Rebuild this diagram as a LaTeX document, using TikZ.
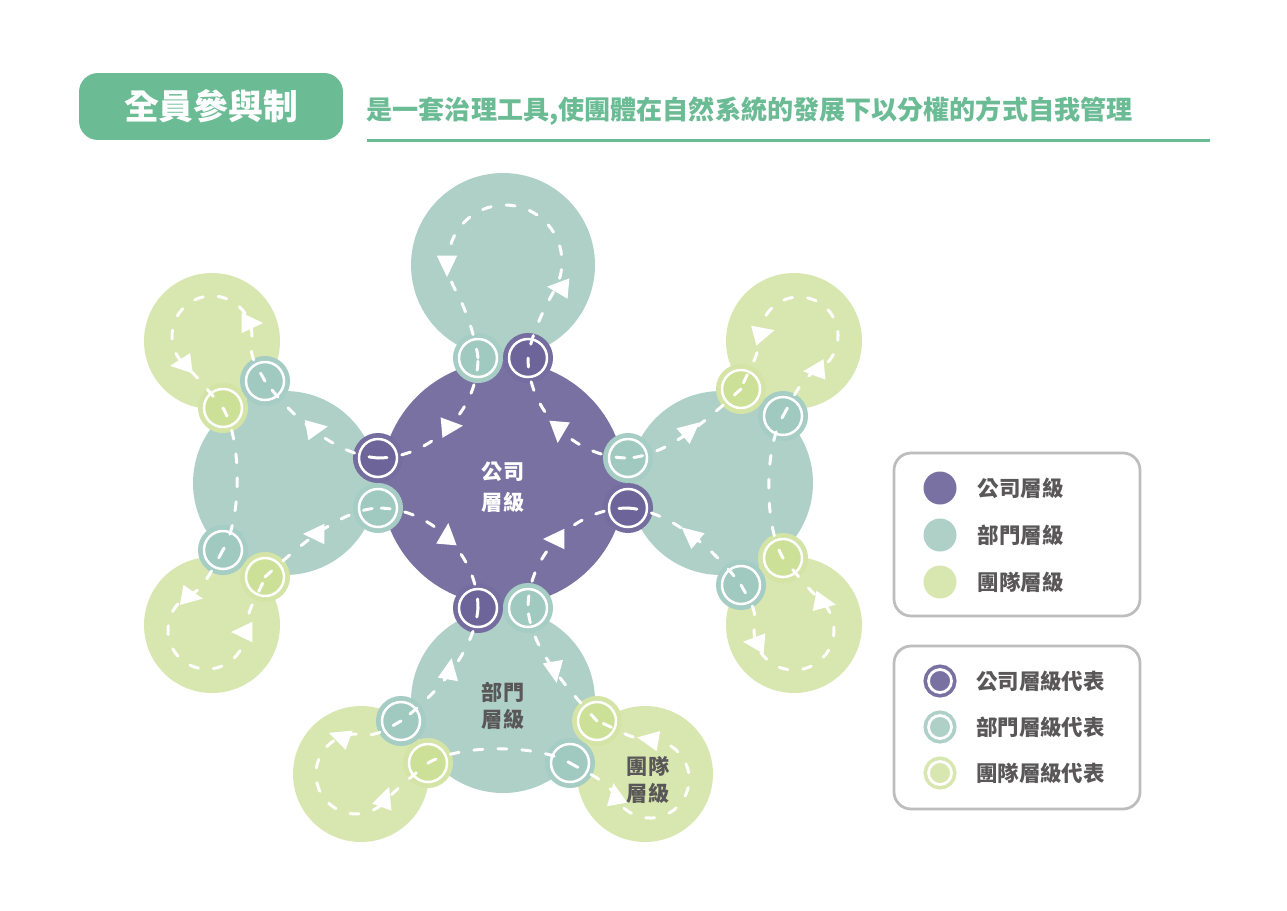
\documentclass[tikz,border=0pt]{standalone}
\usepackage{fontspec}
\newfontfamily\cjk{Noto Sans CJK TC}
\usetikzlibrary{shapes.geometric}
\usetikzlibrary{positioning}

\definecolor{compcol}{RGB}{122,113,163}
\definecolor{compout}{RGB}{117,108,159}
\definecolor{compin}{RGB}{109,101,153}
\definecolor{deptcol}{RGB}{174,208,198}
\definecolor{deptout}{RGB}{166,205,196}
\definecolor{deptin}{RGB}{160,201,192}
\definecolor{teamcol}{RGB}{216,231,176}
\definecolor{teamout}{RGB}{211,228,166}
\definecolor{teamin}{RGB}{205,224,151}
\definecolor{hdgreen}{RGB}{107,187,149}
\definecolor{txtgray}{RGB}{89,87,87}
\definecolor{boxgray}{RGB}{189,189,189}

\begin{document}
\begin{tikzpicture}
  [
    x=0.02cm, y=-0.02cm,
    disc/.style     = {circle, inner sep=0pt, outer sep=0pt, fill=#1},
    compdisc/.style = {disc=compcol, minimum size=4.88cm},
    deptdisc/.style = {disc=deptcol, minimum size=3.68cm},
    teamdisc/.style = {disc=teamcol, minimum size=2.72cm},
    rep/.style 2 args = {circle, inner sep=0pt, outer sep=0pt, minimum size=0.76cm,
      fill=#2, draw=white, line width=0.05cm, preaction={draw=#1, line width=0.24cm}},
    comprep/.style  = {rep={compout}{compin}},
    deptrep/.style  = {rep={deptout}{deptin}},
    teamrep/.style  = {rep={teamout}{teamin}},
    flow/.style     = {draw=white, line width=0.06cm, line cap=round, dash pattern=on 0.18cm off 0.3cm},
    flowtip/.style  = {isosceles triangle, isosceles triangle stretches, fill=white, inner sep=0pt,
      minimum width=0.41cm, minimum height=0.43cm},
    lbl/.style      = {align=center, inner sep=0pt, text=txtgray, font=\cjk\bfseries\fontsize{12}{15.5}\selectfont},
    titlebox/.style = {fill=hdgreen, rounded corners=0.38cm, minimum width=5.28cm, minimum height=1.34cm,
      text=white, font=\cjk\bfseries\fontsize{19.8}{22}\selectfont},
    motto/.style    = {inner sep=0pt, text=hdgreen, font=\cjk\bfseries\fontsize{14.85}{17}\selectfont},
    legbox/.style   = {draw=boxgray, line width=0.055cm, rounded corners=0.34cm, minimum width=4.92cm, minimum height=3.26cm},
    legdot/.style   = {circle, inner sep=0pt, minimum size=0.66cm, fill=#1},
    legring/.style  = {circle, inner sep=0pt, minimum size=0.46cm, fill=#1, draw=white, line width=0.055cm,
      preaction={draw=#1, line width=0.2cm}},
    legtxt/.style   = {inner sep=0pt, text=txtgray, font=\cjk\bfseries\fontsize{12.2}{14}\selectfont},
  ]

  \fill[white] (0,0) rectangle (1287,910);
  \useasboundingbox (0,0) rectangle (1287,910);
  \coordinate (O) at (503,483);

  % heading
  \node[titlebox] (title) at (211,106.5) {全員參與制};
  \node[motto, right=0.46cm of title, yshift=-0.09cm] (subtitle) {是一套治理工具,使團體在自然系統的發展下以分權的方式自我管理};
  \draw[hdgreen, line width=0.06cm] (367,140) -- (1210,140);

  % department and team circles, one branch turned round the centre
  \foreach \ang/\br in {0/l, 90/b, 180/r, 270/t} {
    \begin{scope}[rotate around={\ang:(O)}]
      \node[deptdisc] (\br dept) at (285,483) {};
    \end{scope}
  }
  \foreach \ang/\br in {0/l, 90/b, 180/r} {
    \begin{scope}[rotate around={\ang:(O)}]
      \node[teamdisc] (\br teamA) at (212,341) {};
      \node[teamdisc] (\br teamB) at (212,625) {};
    \end{scope}
  }
  \node[compdisc] (comp) at (O) {};

  % representatives
  \foreach \ang/\br in {0/l, 90/b, 180/r, 270/t} {
    \begin{scope}[rotate around={\ang:(O)}]
      \node[comprep] (\br co) at (378,458) {};
      \node[deptrep] (\br dp) at (378,508) {};
    \end{scope}
  }
  \foreach \ang/\br in {0/l, 90/b, 180/r} {
    \begin{scope}[rotate around={\ang:(O)}]
      \node[deptrep] (\br dA) at (265,381) {};
      \node[teamrep] (\br tA) at (223,408) {};
      \node[deptrep] (\br dB) at (223,550) {};
      \node[teamrep] (\br tB) at (265,577) {};
    \end{scope}
  }

  % the dashed loops
  \foreach \ang/\br/\nx in {0/l/t, 90/b/l, 180/r/b, 270/t/r} {
    \begin{scope}[rotate around={\ang:(O)}]
      \draw[flow] (\br co.center) .. controls +(52,0) and +(0,54) .. (\nx dp.center);
    \end{scope}
  }
  \foreach \ang/\br in {0/l, 90/b, 180/r} {
    \begin{scope}[rotate around={\ang:(O)}]
      \draw[flow] (\br co.center) .. controls +(-43,-3) and +(25,34) .. (\br dA.center);
      \draw[flow] (\br dA.center) .. controls +(-7,-13) and +(-2,15) .. (251.4,342.9)
        arc[start angle=10, end angle=-230, radius=40] .. controls +(11,10) and +(-11,-13) .. (\br tA.center);
      \draw[flow] (\br tA.center) .. controls +(19,32) and +(19,-32) .. (\br dB.center);
      \draw[flow] (\br dB.center) .. controls +(-8,14) and +(14,-6) .. (190.5,594.7)
        arc[start angle=245, end angle=0, radius=39] .. controls +(0,-20) and +(-5,15) .. (\br tB.center);
      \draw[flow] (\br tB.center) .. controls +(35,-32) and +(-38,2) .. (\br dp.center);
    \end{scope}
  }
  \draw[flow] (tdp.center) .. controls +(-3,-25) and +(7,12) .. (455.6,290.5)
    arc[start angle=150, end angle=390, radius=57] .. controls +(-7,12) and +(3,-25) .. (tco.center);

  % arrow heads
  \foreach \x/\y/\rot [count=\i] in {448/427/5, 559/428/-95, 558/539/180, 447/538/85,
      447/262/-90, 562/288/175,
      313/429/10, 318/534/180, 248/323/0, 185/364/187, 188/596/-10, 246/632/180,
      693/537/140, 688/432/40, 818/370/185, 760/334/15, 758/643/175, 821/602/-10,
      449/673/80, 554/668/-80, 343/738/160, 384/801/70, 616/798/100, 652/740/170}
    \node[flowtip, rotate=\rot] (tip\i) at (\x,\y) {};

  % level names
  \node[lbl, text=white, font=\cjk\bfseries\fontsize{12}{17.5}\selectfont] (complbl) at (503,487) {公司\\層級};
  \node[lbl] (deptlbl) at (503,706) {部門\\層級};
  \node[lbl] (teamlbl) at (648,780) {團隊\\層級};

  % legend
  \node[legbox] (levels) at (1017,534.5) {};
  \node[legbox] (reps) at (1017,727.5) {};
  \foreach \y/\col/\txt [count=\i] in {488/compcol/公司層級, 535/deptcol/部門層級, 582/teamcol/團隊層級} {
    \node[legdot=\col] (dot\i) at (940,\y) {};
    \node[legtxt, right=0.41cm of dot\i] (key\i) {\txt};
  }
  \foreach \y/\col/\txt [count=\i] in {681/compcol/公司層級代表, 727/deptcol/部門層級代表, 773/teamcol/團隊層級代表} {
    \node[legring=\col] (ring\i) at (940,\y) {};
    \node[legtxt, right=0.46cm of ring\i] (repkey\i) {\txt};
  }
\end{tikzpicture}
\end{document}
